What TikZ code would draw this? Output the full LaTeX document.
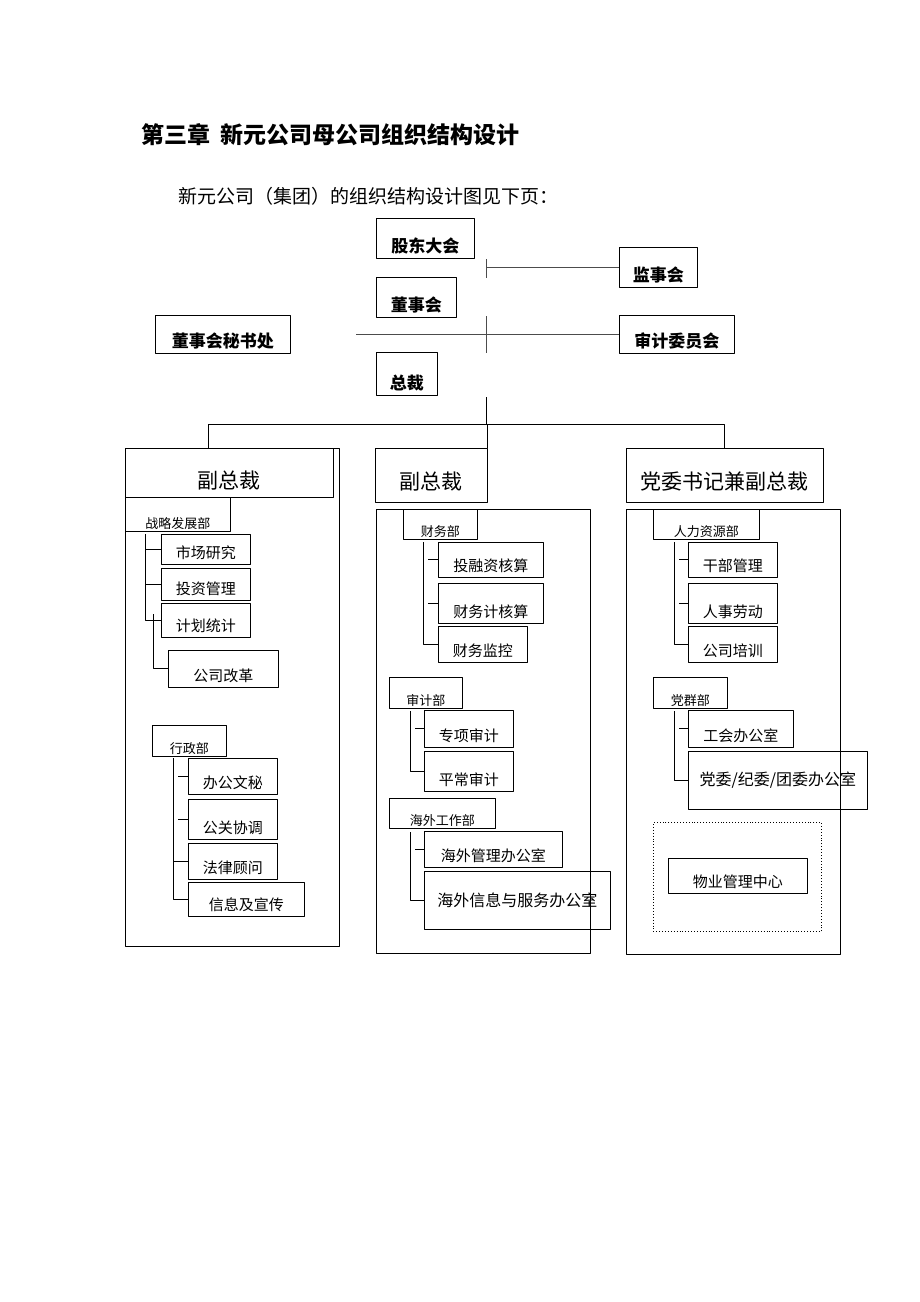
\documentclass[tikz,border=0pt]{standalone}
\usepackage{fontspec}
\setmainfont{Noto Sans CJK SC}
\newcommand\fs[1]{\fontsize{#1}{#1}\selectfont}
% box with its text sitting low, as in the scan
\newcommand\orgunit[7]{%
  \pgfmathsetmacro\bw{#4-#2}\pgfmathsetmacro\bh{#5-#3-#6}%
  \node[orgbox, minimum width=\bw pt, text height=\bh pt, text depth=#6pt] (#1) at (#2,#3) {#7};}
% box with centred text
\newcommand\orgmid[6]{%
  \pgfmathsetmacro\bw{#4-#2}\pgfmathsetmacro\bh{#5-#3}%
  \node[orgbox, minimum width=\bw pt, minimum height=\bh pt] (#1) at (#2,#3) {#6};}
\tikzset{
  orgbox/.style={draw, line width=0.9pt, anchor=north west, inner sep=0pt},
  link/.style={line width=1pt},
  thinlink/.style={line width=0.7pt, black!70},
}
\begin{document}
\begin{tikzpicture}[x=1pt, y=-1pt, line join=round]
\useasboundingbox (0,0) rectangle (920,1302);
% headline
\node[anchor=west, font=\fs{23}\bfseries] (title) at (138,135) {第三章\hspace{10pt}新元公司母公司组织结构设计};
\node[anchor=west, font=\fs{19}] (intro) at (175,196) {新元公司（集团）的组织结构设计图见下页：};

% column frames
\orgmid{col1}{125}{448}{339}{946}{}
\orgmid{col2}{376}{509}{590}{953}{}
\orgmid{col3}{626}{509}{840}{954}{}
\node[orgbox, dotted, minimum width=168pt, minimum height=109pt] (dots) at (653,822) {};

% board level
\begin{scope}[font=\fs{17}\bfseries]
  \foreach \n/\xa/\ya/\xb/\yb/\t in {gd/376/218/474/258/股东大会, jsh/619/247/697/287/监事会,
      dsh/376/277/456/317/董事会, msc/155/315/290/353/董事会秘书处,
      sjw/619/315/734/353/审计委员会, zc/376/352/437/395/总裁}
    {\orgunit{\n}{\xa}{\ya}{\xb}{\yb}{6}{\t}}
\end{scope}

% vice presidents
\begin{scope}[font=\fs{21}]
  \orgunit{vp1}{125}{448}{333}{497}{9}{副总裁}
  \orgunit{vp2}{375}{448}{487}{502}{13}{副总裁}
  \orgunit{vp3}{626}{448}{823}{502}{13}{党委书记兼副总裁}
\end{scope}

% departments
\begin{scope}[font=\fs{13}]
  \foreach \n/\xa/\ya/\xb/\yb/\t in {d1/125/497/230/531/战略发展部, d2/152/725/226/756/行政部,
      d3/403/509/477/539/财务部, d4/389/677/462/708/审计部, d5/389/798/495/828/海外工作部,
      d6/653/509/759/539/人力资源部, d7/653/677/727/708/党群部}
    {\orgunit{\n}{\xa}{\ya}{\xb}{\yb}{3}{\t}}
\end{scope}

% offices
\begin{scope}[font=\fs{15}]
  \foreach \n/\xa/\ya/\xb/\yb/\t in {a1/161/534/250/564/市场研究, a2/161/568/250/600/投资管理,
      a3/161/603/250/637/计划统计, a4/168/650/278/687/公司改革,
      b1/188/758/277/794/办公文秘, b2/188/799/277/839/公关协调,
      b3/188/843/277/879/法律顾问, b4/188/882/304/916/信息及宣传,
      c1/438/542/543/577/投融资核算, c2/438/583/543/623/财务计核算, c3/438/626/527/662/财务监控,
      e1/424/710/513/747/专项审计, e2/424/751/513/791/平常审计, f1/424/831/562/867/海外管理办公室,
      g1/688/542/777/577/干部管理, g2/688/583/777/623/人事劳动, g3/688/626/777/662/公司培训,
      h1/688/710/793/747/工会办公室, wy/668/858/807/893/物业管理中心}
    {\orgunit{\n}{\xa}{\ya}{\xb}{\yb}{6}{\t}}
\end{scope}
\begin{scope}[font=\fs{16}]
  \orgmid{f2}{424}{871}{610}{929}{海外信息与服务办公室}
  \orgmid{h2}{688}{751}{867}{809}{党委/纪委/团委办公室}
\end{scope}

% board links
\path (486,259) coordinate (s1) (486,278) coordinate (s2)
      (486,316) coordinate (s3) (486,353) coordinate (s4)
      (356,335) coordinate (s5)
      (486,397) coordinate (s6) (486,424) coordinate (bus);
\draw[thinlink] (s1) -- (s2) (s1 |- jsh.west) -- (jsh.west);
\draw[thinlink] (s3) -- (s4) (s5 |- sjw.west) -- (sjw.west);
\draw[link] (s6) -- (bus);
\draw[link] (208,424) coordinate (bl) -- (vp3.north |- bus) -- (vp3.north);
\draw[link] (bl) -- (bl |- vp1.north);
\draw[link] (vp2.north east |- bus) -- (vp2.north east);

% department combs
\draw[link] (145,534) coordinate (k1) -- (k1 |- a3.west) -- (a3.west);
\foreach \c in {a1,a2} \draw[link] (k1 |- \c.west) -- (\c.west);
\draw[link] (153,614) coordinate (k2) |- (a4.west);

\draw[link] (173,758) coordinate (k3) |- (b4.west);
\draw[link] (k3 |- b3.west) -- (b3.west);
\foreach \c in {b1,b2} \draw[link] ([xshift=5pt]k3 |- \c.west) -- (\c.west);

\draw[link] (423,542) coordinate (k4) |- (c3.west);
\foreach \c in {c1,c2} \draw[link] ([xshift=5pt]k4 |- \c.west) -- (\c.west);

\draw[link] (410,711) coordinate (k5) |- (e2.west);
\draw[link] ([xshift=5pt]k5 |- e1.west) -- (e1.west);

\draw[link] (410,832) coordinate (k6) |- (f2.west);
\draw[link] ([xshift=5pt]k6 |- f1.west) -- (f1.west);

\draw[link] (674,542) coordinate (k7) |- (g3.west);
\foreach \c in {g1,g2} \draw[link] ([xshift=5pt]k7 |- \c.west) -- (\c.west);

\draw[link] (674,711) coordinate (k8) |- (h2.west);
\draw[link] ([xshift=5pt]k8 |- h1.west) -- (h1.west);
\end{tikzpicture}
\end{document}
